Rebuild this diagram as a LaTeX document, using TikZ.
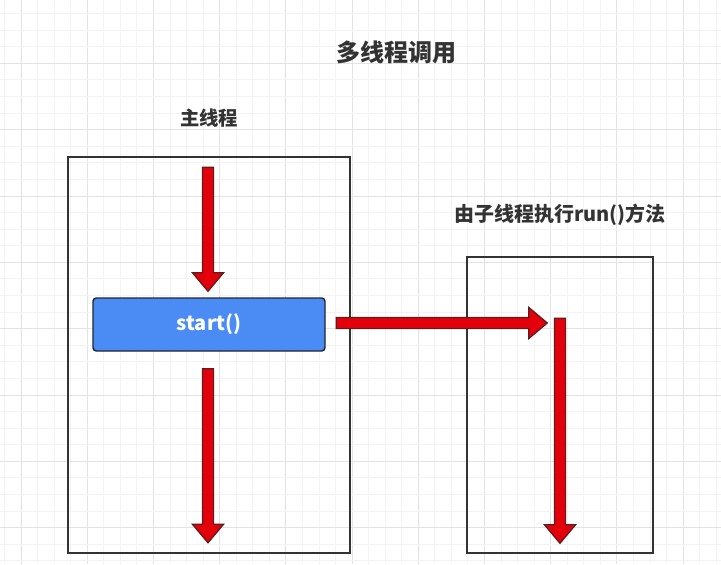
\documentclass[tikz,border=0pt]{standalone}
\usepackage{fontspec}
\newfontfamily\cjk{Noto Sans CJK SC}
\usetikzlibrary{shapes.arrows}
\definecolor{arrowred}{HTML}{E3000B}
\definecolor{arrowedge}{HTML}{5A1E1E}
\definecolor{startblue}{HTML}{4B8BF4}
\definecolor{startedge}{HTML}{1F2633}
\definecolor{gridminor}{HTML}{F3F3F3}
\definecolor{gridmajor}{HTML}{E3E3E3}
\definecolor{textdark}{HTML}{333333}
\begin{document}
\begin{tikzpicture}[x=0.75pt,y=-0.75pt,
  blockarrow/.style={single arrow, fill=arrowred, draw=arrowedge, line width=0.9pt,
    inner sep=3.75pt, single arrow head extend=7.5pt,
    single arrow head indent=0pt, single arrow tip angle=80},
  frame/.style={draw=textdark, line width=0.9pt, inner sep=0pt},
  label/.style={font=\cjk\bfseries, text=textdark},
  startbox/.style={draw=startedge, fill=startblue, line width=1.1pt, rounded corners=2.5pt,
    font=\cjk\bfseries\fontsize{15pt}{18pt}\selectfont, text=white,
    minimum width=174pt, minimum height=39.75pt}]
\useasboundingbox (0,0) rectangle (721,564);
\fill[white] (0,0) rectangle (721,564);
% grid
\foreach \i in {-2,...,43}{
  \pgfmathtruncatemacro{\m}{mod(\i+8,4)}
  \ifnum\m=0 \draw[gridmajor, line width=0.6pt] ({21+16.55*\i},0) -- ({21+16.55*\i},564);
  \else \draw[gridminor, line width=0.6pt] ({21+16.55*\i},0) -- ({21+16.55*\i},564);\fi
}
\foreach \j in {-4,...,31}{
  \pgfmathtruncatemacro{\m}{mod(\j+8,4)}
  \ifnum\m=0 \draw[gridmajor, line width=0.6pt] (0,{63.3+16.58*\j}) -- (721,{63.3+16.58*\j});
  \else \draw[gridminor, line width=0.6pt] (0,{63.3+16.58*\j}) -- (721,{63.3+16.58*\j});\fi
}
% texts
\node[label, font=\cjk\bfseries\fontsize{18pt}{22pt}\selectfont] (title) at (396,52) {多线程调用};
\node[label, font=\cjk\bfseries\fontsize{14.5pt}{17pt}\selectfont] (mainlbl) at (209,118) {主线程};
\node[label, font=\cjk\bfseries\fontsize{15pt}{18pt}\selectfont] (sublbl) at (560,215) {由子线程执行run()方法};
% frames
\node[frame, minimum width=211.5pt, minimum height=297pt] (mainbox) at (209,355) {};
\node[frame, minimum width=139.5pt, minimum height=222pt] (subbox) at (560,405) {};
% start box
\node[startbox] (start) at (209,324.5) {start()};
% arrows
\node[blockarrow, shape border rotate=270, minimum height=93pt] (a1) at (208,226) {};
\node[blockarrow, shape border rotate=270, minimum height=130.5pt] (a2) at (208,452.5) {};
\node[blockarrow, minimum height=158.25pt] (a3) at (438.5,323) {};
\node[blockarrow, shape border rotate=270, minimum height=168.75pt] (a4) at (560,427.5) {};
\end{tikzpicture}
\end{document}
